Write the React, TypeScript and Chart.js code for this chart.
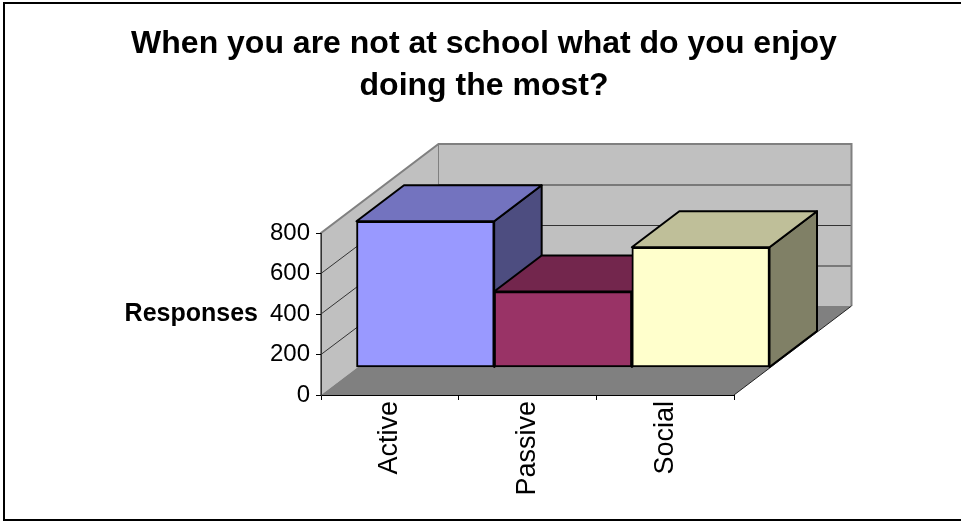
import React, { useEffect, useRef } from "react";
import { Chart, registerables } from "chart.js";

Chart.register(...registerables);

const titleLines = ["When you are not at school what do you enjoy", "doing the most?"];
const axisTitle = "Responses";
const categories = ["Active", "Passive", "Social"];
const responses = [722, 375, 594];
const frontColors = ["#9999FF", "#993366", "#FFFFCC"];
const topColors = ["#7373BF", "#73264D", "#BFBF99"];
const sideColors = ["#4D4D80", "#4D1A33", "#808066"];

const FONT = "'Liberation Sans', Arial, sans-serif";
const WALL = { dx: 117.5, dy: -89 };
const SHIFT = { dx: 35.5, dy: -27.5 };
const BAR = { dx: 47.5, dy: -36 };

function poly(ctx: CanvasRenderingContext2D, pts: number[][], fill?: string, stroke?: string, lw = 1) {
  ctx.beginPath();
  pts.forEach((p, i) => (i ? ctx.lineTo(p[0], p[1]) : ctx.moveTo(p[0], p[1])));
  ctx.closePath();
  if (fill) {
    ctx.fillStyle = fill;
    ctx.fill();
  }
  if (stroke) {
    ctx.strokeStyle = stroke;
    ctx.lineWidth = lw;
    ctx.stroke();
  }
}

const box3d = {
  id: "box3d",
  beforeDraw(chart: any) {
    const { ctx, chartArea: a, width, height } = chart;
    const y = chart.scales.y;
    const { dx, dy } = WALL;
    ctx.save();
    ctx.fillStyle = "#fff";
    ctx.fillRect(0, 0, width, height);
    ctx.strokeStyle = "#000";
    ctx.lineWidth = 2;
    ctx.strokeRect(4, 3, width + 10, height - 5);

    // walls and floor
    poly(ctx, [[a.left, a.bottom], [a.left, a.top], [a.left + dx, a.top + dy], [a.left + dx, a.bottom + dy]], "#C0C0C0");
    poly(ctx, [[a.left + dx, a.top + dy], [a.right + dx, a.top + dy], [a.right + dx, a.bottom + dy], [a.left + dx, a.bottom + dy]], "#C0C0C0");
    poly(ctx, [[a.left, a.bottom], [a.right, a.bottom], [a.right + dx, a.bottom + dy], [a.left + dx, a.bottom + dy]], "#808080");

    // gridlines
    ctx.strokeStyle = "#333";
    ctx.lineWidth = 1;
    y.ticks.forEach((t: any) => {
      if (t.value <= 0 || t.value >= 800) return;
      const py = y.getPixelForValue(t.value);
      ctx.beginPath();
      ctx.moveTo(a.left, py);
      ctx.lineTo(a.left + dx, py + dy + 0.5);
      ctx.lineTo(a.right + dx, py + dy + 0.5);
      ctx.stroke();
    });

    // wall outline
    ctx.strokeStyle = "#808080";
    ctx.lineWidth = 2;
    ctx.beginPath();
    ctx.moveTo(a.left, a.bottom);
    ctx.lineTo(a.left, a.top);
    ctx.lineTo(a.left + dx, a.top + dy);
    ctx.lineTo(a.right + dx, a.top + dy);
    ctx.lineTo(a.right + dx, a.bottom + dy);
    ctx.stroke();
    ctx.lineWidth = 1;
    ctx.beginPath();
    ctx.moveTo(a.left + dx, a.top + dy);
    ctx.lineTo(a.left + dx, a.bottom + dy);
    ctx.stroke();

    // floor edge
    ctx.strokeStyle = "#222";
    ctx.lineWidth = 1;
    ctx.beginPath();
    ctx.moveTo(a.right, a.bottom);
    ctx.lineTo(a.right + dx, a.bottom + dy);
    ctx.stroke();

    // y axis title
    ctx.fillStyle = "#000";
    ctx.font = `bold 25px ${FONT}`;
    ctx.textAlign = "right";
    ctx.textBaseline = "middle";
    ctx.fillText(axisTitle, 258, y.getPixelForValue(400));
    ctx.restore();
  },
  beforeDatasetsDraw(chart: any) {
    const { ctx } = chart;
    ctx.save();
    ctx.lineJoin = "round";
    chart.getDatasetMeta(0).data.forEach((el: any, i: number) => {
      const half = el.width / 2;
      const l = el.x - half + SHIFT.dx;
      const r = el.x + half + SHIFT.dx;
      const t = el.y + SHIFT.dy;
      const b = el.base + SHIFT.dy;
      poly(ctx, [[r, t], [r + BAR.dx, t + BAR.dy], [r + BAR.dx, b + BAR.dy], [r, b]], sideColors[i], "#000", 2);
      poly(ctx, [[l, t], [r, t], [r + BAR.dx, t + BAR.dy], [l + BAR.dx, t + BAR.dy]], topColors[i], "#000", 2);
    });
    ctx.restore();
  },
  beforeDatasetDraw(chart: any) {
    chart.ctx.save();
    chart.ctx.translate(SHIFT.dx, SHIFT.dy);
  },
  afterDatasetDraw(chart: any) {
    chart.ctx.restore();
  },
};

export default function App() {
  const ref = useRef<HTMLCanvasElement | null>(null);
  useEffect(() => {
    const chart = new Chart(ref.current as HTMLCanvasElement, {
      type: "bar",
      data: {
        labels: categories,
        datasets: [
          {
            label: axisTitle,
            data: responses,
            backgroundColor: frontColors,
            borderColor: "#000",
            borderWidth: 2,
            borderSkipped: false,
            barPercentage: 1,
            categoryPercentage: 1,
            clip: false as any,
          },
        ],
      },
      options: {
        responsive: false,
        animation: false,
        layout: { padding: { left: 7, top: 0, right: 0, bottom: 0 } },
        plugins: {
          legend: { display: false },
          tooltip: { enabled: false },
          title: {
            display: true,
            text: titleLines,
            color: "#000",
            font: { family: FONT, size: 32, weight: "bold", lineHeight: 1.3125 },
            padding: { top: 23, bottom: 126 },
          },
        },
        scales: {
          x: {
            type: "category",
            grid: { drawOnChartArea: false, drawTicks: true, tickLength: 5, color: "#000" },
            border: { display: true, color: "#000", width: 1 },
            ticks: {
              color: "#000",
              autoSkip: false,
              maxRotation: 90,
              minRotation: 90,
              padding: 1,
              font: { family: FONT, size: 27 },
            },
            afterFit: (s: any) => {
              s.height = 127;
            },
          },
          y: {
            type: "linear",
            min: 0,
            max: 800,
            grid: { drawOnChartArea: false, drawTicks: true, tickLength: 5, color: "#000" },
            border: { display: true, color: "#333", width: 1 },
            ticks: {
              stepSize: 200,
              color: "#000",
              padding: 6,
              font: { family: FONT, size: 24 },
            },
            afterFit: (s: any) => {
              s.width = 314;
            },
          },
          spacer: {
            type: "linear",
            position: "right",
            display: true,
            grid: { display: false },
            border: { display: false },
            ticks: { display: false },
            afterFit: (s: any) => {
              s.width = 227;
            },
          },
        },
      } as any,
      plugins: [box3d],
    });
    return () => chart.destroy();
  }, []);
  return (
    <canvas
      ref={ref}
      width={961}
      height={522}
      style={{ position: "fixed", left: 0, top: 0, display: "block" }}
    />
  );
}
